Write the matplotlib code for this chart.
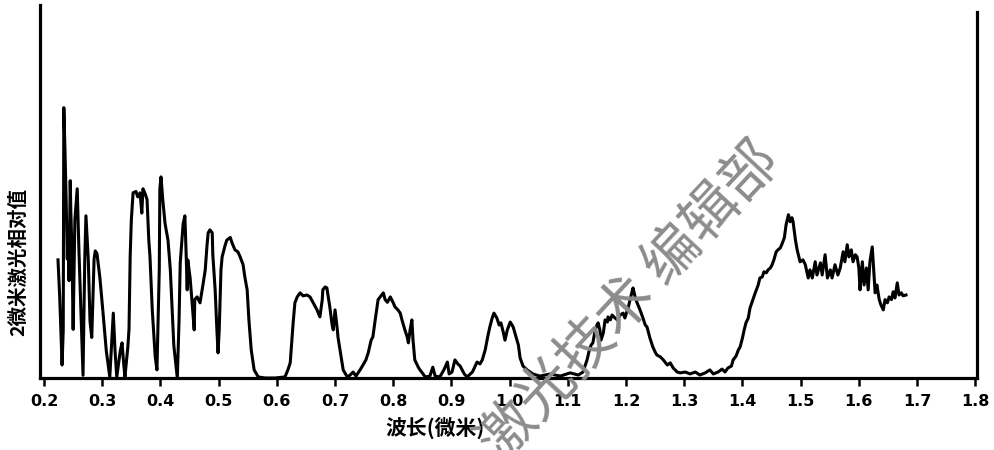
import matplotlib
matplotlib.use("Agg")
import matplotlib.pyplot as plt

plt.rcParams["font.family"] = ["Noto Sans CJK SC", "DejaVu Sans"]

# wavelength (um) and relative signal
wavelength = [
    0.224, 0.227, 0.231, 0.233, 0.234, 0.236, 0.238, 0.240, 0.241, 0.243,
    0.245, 0.246, 0.248, 0.250, 0.253, 0.257, 0.260, 0.264, 0.267, 0.270,
    0.272, 0.276, 0.279, 0.282, 0.286, 0.288, 0.291, 0.296, 0.301, 0.307,
    0.313, 0.319, 0.322, 0.325, 0.331, 0.334, 0.337, 0.339, 0.344, 0.346,
    0.348, 0.350, 0.353, 0.358, 0.361, 0.365, 0.368, 0.370, 0.374, 0.377,
    0.380, 0.382, 0.386, 0.391, 0.394, 0.398, 0.399, 0.401, 0.404, 0.408,
    0.413, 0.417, 0.420, 0.423, 0.429, 0.432, 0.434, 0.437, 0.439, 0.442,
    0.444, 0.446, 0.447, 0.451, 0.454, 0.458, 0.459, 0.463, 0.468, 0.473,
    0.477, 0.480, 0.482, 0.485, 0.489, 0.490, 0.494, 0.497, 0.499, 0.501,
    0.504, 0.506, 0.511, 0.514, 0.520, 0.523, 0.528, 0.533, 0.537, 0.542,
    0.545, 0.549, 0.552, 0.556, 0.561, 0.568, 0.580, 0.597, 0.614, 0.619,
    0.623, 0.628, 0.631, 0.635, 0.640, 0.645, 0.652, 0.657, 0.662, 0.669,
    0.674, 0.678, 0.679, 0.683, 0.686, 0.691, 0.695, 0.697, 0.700, 0.704,
    0.705, 0.710, 0.714, 0.721, 0.726, 0.731, 0.736, 0.743, 0.748, 0.753,
    0.757, 0.762, 0.765, 0.769, 0.774, 0.779, 0.783, 0.786, 0.790, 0.795,
    0.800, 0.803, 0.808, 0.812, 0.815, 0.820, 0.824, 0.826, 0.829, 0.832,
    0.834, 0.837, 0.843, 0.846, 0.855, 0.863, 0.868, 0.872, 0.880, 0.887,
    0.893, 0.896, 0.901, 0.906, 0.911, 0.915, 0.922, 0.927, 0.936, 0.944,
    0.949, 0.953, 0.958, 0.963, 0.966, 0.970, 0.973, 0.978, 0.982, 0.985,
    0.989, 0.992, 0.996, 1.001, 1.006, 1.009, 1.015, 1.018, 1.023, 1.030,
    1.040, 1.052, 1.070, 1.087, 1.104, 1.118, 1.126, 1.133, 1.137, 1.140,
    1.143, 1.147, 1.150, 1.152, 1.155, 1.157, 1.161, 1.164, 1.168, 1.169,
    1.173, 1.176, 1.181, 1.185, 1.190, 1.195, 1.198, 1.204, 1.207, 1.211,
    1.212, 1.216, 1.219, 1.224, 1.229, 1.233, 1.236, 1.241, 1.246, 1.250,
    1.253, 1.259, 1.264, 1.271, 1.276, 1.281, 1.288, 1.293, 1.302, 1.310,
    1.319, 1.327, 1.336, 1.344, 1.350, 1.358, 1.365, 1.370, 1.375, 1.381,
    1.384, 1.389, 1.393, 1.396, 1.400, 1.403, 1.406, 1.410, 1.413, 1.418,
    1.422, 1.427, 1.430, 1.434, 1.437, 1.441, 1.444, 1.448, 1.451, 1.454,
    1.458, 1.461, 1.465, 1.468, 1.472, 1.475, 1.479, 1.482, 1.485, 1.487,
    1.491, 1.494, 1.496, 1.499, 1.504, 1.508, 1.513, 1.516, 1.520, 1.525,
    1.528, 1.534, 1.537, 1.542, 1.546, 1.551, 1.554, 1.559, 1.564, 1.568,
    1.573, 1.576, 1.580, 1.583, 1.587, 1.590, 1.594, 1.597, 1.600, 1.602,
    1.606, 1.609, 1.613, 1.616, 1.619, 1.623, 1.626, 1.628, 1.631, 1.635,
    1.638, 1.642, 1.645, 1.649, 1.652, 1.656, 1.659, 1.662, 1.666, 1.669,
    1.673, 1.676, 1.681,
]
signal = [
    43.7, 29.6, 4.8, 17.8, 100.0, 84.0, 66.0, 44.0, 55.0, 36.0,
    73.0, 62.0, 47.0, 18.0, 58.5, 70.0, 47.0, 21.0, 1.0, 44.0,
    60.0, 44.0, 21.0, 15.0, 44.0, 47.0, 46.0, 37.0, 25.0, 10.0,
    0.4, 24.0, 10.0, 0.4, 10.0, 13.0, 5.0, 0.4, 11.5, 18.0,
    45.0, 58.5, 68.5, 69.0, 67.0, 68.5, 61.0, 70.0, 68.0, 66.0,
    51.0, 45.0, 25.0, 8.0, 3.0, 40.0, 70.0, 74.4, 66.0, 57.0,
    51.0, 40.0, 26.0, 12.0, 0.0, 21.5, 42.6, 51.0, 57.0, 60.0,
    47.0, 32.6, 43.7, 37.0, 29.0, 17.8, 29.0, 30.0, 27.8, 34.4,
    40.0, 49.0, 53.7, 54.8, 53.7, 45.6, 32.6, 17.8, 9.3, 17.8,
    40.0, 44.8, 49.0, 51.0, 52.0, 50.0, 47.4, 46.7, 44.8, 41.9,
    37.4, 32.6, 21.5, 10.4, 3.0, 0.4, 0.0, 0.0, 0.4, 3.0,
    5.6, 20.4, 27.8, 30.0, 31.5, 30.4, 30.7, 30.0, 28.0, 25.2,
    22.6, 28.9, 32.6, 33.7, 33.3, 26.3, 19.6, 17.8, 25.2, 17.8,
    15.2, 8.5, 3.0, 0.4, 1.1, 2.2, 0.7, 3.0, 4.8, 6.7,
    9.3, 14.0, 15.2, 21.5, 29.0, 30.4, 31.5, 29.0, 28.0, 30.0,
    27.8, 26.3, 25.2, 24.0, 21.5, 17.8, 15.2, 13.0, 17.8, 21.5,
    14.0, 6.7, 4.0, 3.0, 0.4, 0.7, 4.0, 0.7, 0.4, 3.0,
    5.9, 1.5, 2.2, 6.7, 5.2, 4.4, 1.5, 0.4, 2.2, 5.9,
    5.2, 6.7, 10.4, 16.0, 18.9, 22.2, 24.0, 22.2, 19.6, 20.4,
    17.0, 14.0, 17.8, 20.7, 18.9, 16.7, 12.2, 7.4, 4.4, 3.0,
    1.5, 0.7, 1.5, 0.7, 1.9, 1.1, 2.2, 6.7, 10.4, 12.2,
    13.0, 17.8, 19.6, 20.4, 17.8, 14.0, 16.7, 21.5, 20.7, 22.6,
    21.5, 23.3, 22.2, 21.5, 23.3, 24.0, 22.2, 26.3, 29.0, 32.6,
    33.3, 29.6, 27.8, 25.2, 22.2, 19.6, 18.9, 14.8, 11.5, 9.6,
    8.5, 7.8, 6.7, 4.8, 5.6, 3.7, 2.2, 1.9, 2.2, 1.5,
    2.2, 1.1, 1.9, 3.0, 1.5, 2.2, 3.3, 2.2, 3.7, 4.4,
    6.7, 8.1, 10.4, 11.5, 14.8, 17.8, 20.4, 22.2, 25.9, 29.0,
    31.5, 34.4, 37.0, 37.4, 39.3, 38.9, 40.0, 40.7, 41.9, 43.7,
    46.7, 47.4, 48.1, 49.6, 51.9, 56.7, 60.4, 57.8, 59.3, 57.8,
    51.1, 47.4, 45.6, 43.0, 43.7, 41.9, 37.0, 40.0, 37.0, 43.0,
    38.1, 42.6, 38.1, 45.6, 37.0, 40.0, 37.0, 41.9, 38.1, 40.7,
    46.7, 43.0, 49.3, 44.8, 47.4, 43.0, 45.6, 44.8, 40.7, 32.6,
    43.0, 34.4, 40.7, 32.6, 43.0, 48.5, 38.1, 31.5, 34.4, 29.0,
    27.0, 25.2, 29.0, 27.8, 30.0, 29.0, 31.9, 29.6, 35.2, 30.7,
    31.5, 30.4, 30.7,
]

tick_values = [0.2, 0.3, 0.4, 0.5, 0.6, 0.7, 0.8, 0.9, 1.0,
               1.1, 1.2, 1.3, 1.4, 1.5, 1.6, 1.7, 1.8]
tick_labels = ["0.2", "0.3", "0.4", "0.5", "0.6", "0.7", "0.8", "0.9", "1.0",
               "1.1", "1.2", "1.3", "1.4", "1.5", "1.6", "1.7", "1.8"]

fig = plt.figure(figsize=(9.94, 4.5), dpi=100)
ax = fig.add_axes([0.0402, 0.16, 0.9427, 0.829])

ax.plot(wavelength, signal, color="black", lw=2.2, solid_joinstyle="round")

ax.set_xlim(0.193, 1.803)
ax.set_ylim(0, 138)

ax.spines["top"].set_visible(False)
for side in ("left", "right", "bottom"):
    ax.spines[side].set_linewidth(2.3)
ax.spines["right"].set_bounds(0, 135.5)

ax.set_yticks([])
ax.set_xticks(tick_values)
ax.set_xticklabels(tick_labels, family=["DejaVu Sans"], fontweight="bold",
                   fontsize=11.5)
ax.tick_params(axis="x", direction="out", length=5.5, width=1.8, pad=6)

ax.set_xlabel("波长(微米)", fontsize=15, fontweight="bold")
ax.xaxis.set_label_coords(0.422, -0.105)
ax.set_ylabel("2微米激光相对值", fontsize=14, fontweight="bold")
ax.yaxis.set_label_coords(-0.013, 0.31)

# grey editorial watermark across the plot
fig.text(0.634, 0.33, "激光技术 编辑部", fontsize=41, color="#8c8c8c",
         rotation=47, rotation_mode="anchor", ha="center", va="center",
         zorder=10)

fig.savefig("out.png", dpi=100, facecolor="white")
